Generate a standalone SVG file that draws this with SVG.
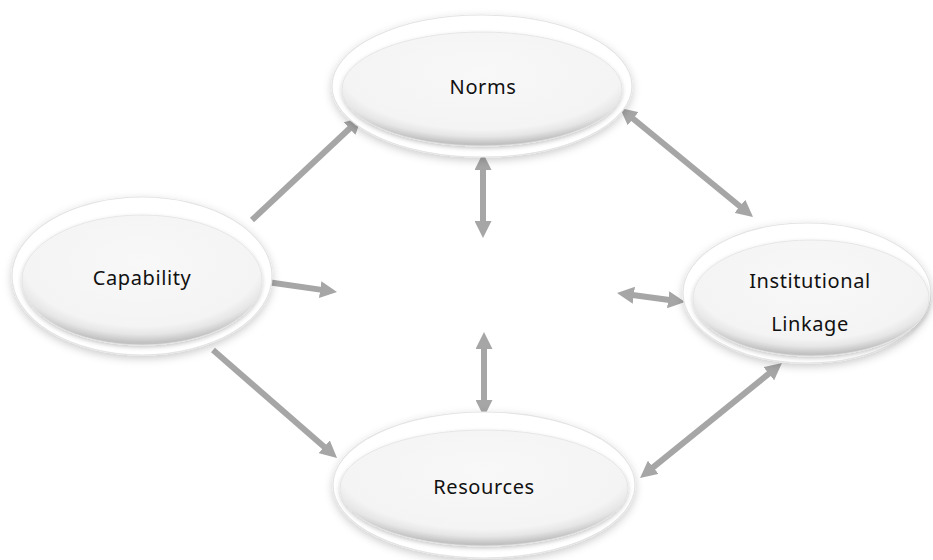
<svg xmlns="http://www.w3.org/2000/svg" width="933" height="560" viewBox="0 0 933 560">
<style>
.outer{fill:#ffffff;stroke:#e4e4e4;stroke-width:1.2;filter:url(#oshadow)}
.inner{fill:url(#ig);stroke:#e2e2e2;stroke-width:0.8;filter:url(#ishadow)}
.lbl{font-family:"Noto Sans","Open Sans","Liberation Sans",sans-serif;font-size:20px;letter-spacing:0.6px;fill:#111;text-anchor:middle;dominant-baseline:central}
.conn line{stroke:#a6a6a6;stroke-width:6;fill:none}
.one{marker-end:url(#ah)}
.two{marker-end:url(#ah);marker-start:url(#ah)}
</style>
<defs>
<radialGradient id="ig" cx="50%" cy="36%" r="62%">
<stop offset="0" stop-color="#f8f8f8"/>
<stop offset="0.8" stop-color="#f4f4f4"/>
<stop offset="0.9" stop-color="#e6e6e6"/>
<stop offset="1" stop-color="#c2c2c2"/>
</radialGradient>
<filter id="oshadow" x="-20%" y="-20%" width="140%" height="150%">
<feDropShadow dx="0" dy="3" stdDeviation="4" flood-color="#000" flood-opacity="0.2"/>
</filter>
<filter id="ishadow" x="-20%" y="-20%" width="140%" height="150%">
<feDropShadow dx="0" dy="2" stdDeviation="2" flood-color="#000" flood-opacity="0.22"/>
</filter>
<marker id="ah" markerUnits="userSpaceOnUse" markerWidth="17" markerHeight="17" viewBox="0 0 17 17" refX="7" refY="8.5" orient="auto-start-reverse">
<path d="M0,0 L17,8.5 L0,17 z" fill="#a6a6a6"/>
</marker>
</defs>
<rect width="933" height="560" fill="#ffffff"/>
<g id="connectors" class="conn">
<line class="one" x1="252" y1="220" x2="354.7" y2="123.8"/>
<line class="two" x1="627.7" y1="114.3" x2="745.3" y2="210.7"/>
<line class="two" x1="483" y1="163" x2="483" y2="228"/>
<line class="two" x1="484" y1="342" x2="484" y2="407"/>
<line class="one" x1="267" y1="282" x2="327.1" y2="290.6"/>
<line class="two" x1="626.9" y1="294.3" x2="675.1" y2="300.7"/>
<line class="one" x1="213" y1="350" x2="329.5" y2="451.4"/>
<line class="two" x1="647.8" y1="471.7" x2="774.2" y2="369.3"/>
</g>
<g id="norms">
<ellipse class="outer" cx="482" cy="86" rx="150" ry="71"/>
<ellipse class="inner" cx="482" cy="89" rx="140" ry="57"/>
<text class="lbl" x="483" y="86">Norms</text>
</g>
<g id="capability">
<ellipse class="outer" cx="142" cy="276" rx="130" ry="79"/>
<ellipse class="inner" cx="142" cy="280" rx="120" ry="65"/>
<text class="lbl" x="142" y="277">Capability</text>
</g>
<g id="institutional-linkage">
<ellipse class="outer" cx="807" cy="293" rx="124" ry="70"/>
<ellipse class="inner" cx="811" cy="298" rx="118" ry="58"/>
<text class="lbl" x="810" y="280">Institutional</text>
<text class="lbl" x="810" y="323">Linkage</text>
</g>
<g id="resources">
<ellipse class="outer" cx="484" cy="485" rx="151" ry="73"/>
<ellipse class="inner" cx="484" cy="488" rx="144" ry="58"/>
<text class="lbl" x="484" y="486">Resources</text>
</g>
</svg>
